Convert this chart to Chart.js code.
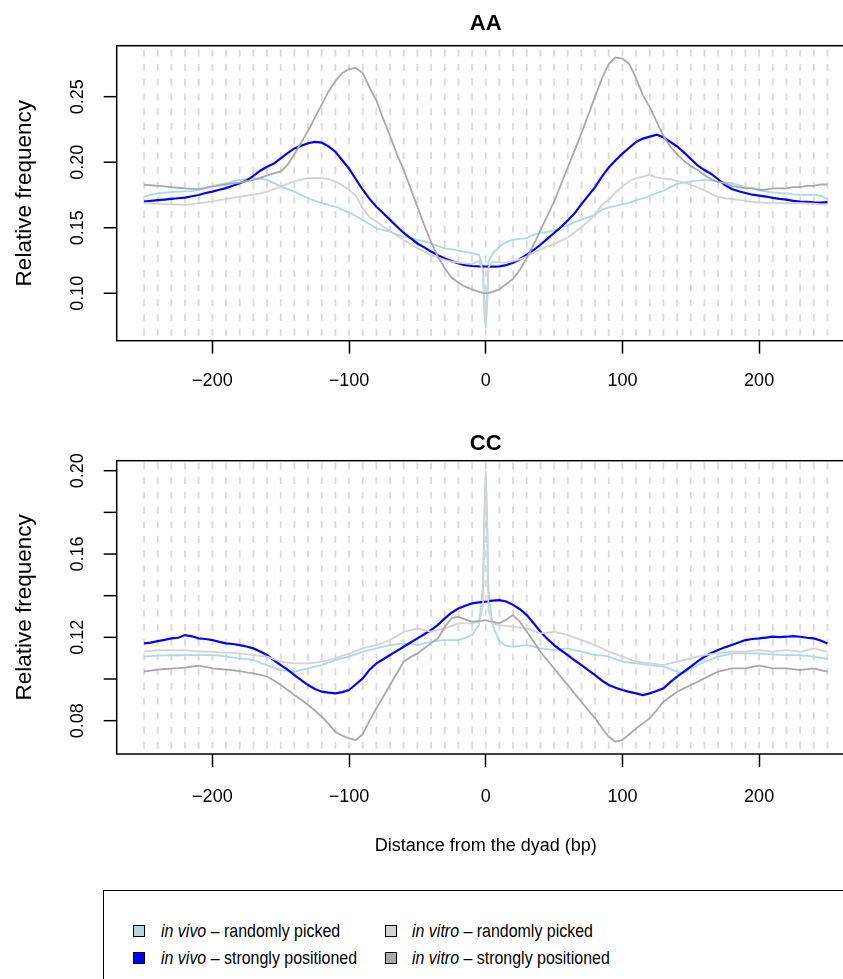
<!DOCTYPE html>
<html>
<head>
<meta charset="utf-8">
<title>AA / CC dinucleotide frequency around the dyad</title>
<script src="https://cdn.jsdelivr.net/npm/chart.js@4.4.1/dist/chart.umd.min.js"></script>
<style>
  html, body { margin: 0; padding: 0; background: #fff; overflow: hidden; }
  body { width: 843px; height: 979px; position: relative; font-family: "Liberation Sans", Arial, Helvetica, sans-serif; }
  canvas { position: absolute; left: 0; }
  #aa { top: 0; }
  #cc { top: 420px; }
  #legend { position: absolute; left: 103px; top: 890px; width: 800px; height: 140px; border: 1.5px solid #000; box-sizing: border-box; }
  .sw { position: absolute; width: 10px; height: 10px; border: 1px solid #000; }
  .lab { position: absolute; font-size: 19px; line-height: 22px; color: #000; white-space: nowrap; transform: scaleX(0.84); transform-origin: 0 50%; }
</style>
</head>
<body>
<canvas id="aa" width="870" height="420"></canvas>
<canvas id="cc" width="870" height="450"></canvas>

<div id="legend"></div>

<script>
// distance from the dyad (bp), every 5 bp plus the centre
const positions = [
  -250, -245, -240, -235, -230, -225, -220, -215, -210, -205,
  -200, -195, -190, -185, -180, -175, -170, -165, -160, -155,
  -150, -145, -140, -135, -130, -125, -120, -115, -110, -105,
  -100, -95, -90, -85, -80, -75, -70, -65, -60, -55,
  -50, -45, -40, -35, -30, -25, -20, -15, -10, -5,
  -2, -1, 0, 1, 2,
  5, 10, 15, 20, 25, 30, 35, 40, 45, 50,
  55, 60, 65, 70, 75, 80, 85, 90, 95, 100,
  105, 110, 115, 120, 125, 130, 135, 140, 145, 150,
  155, 160, 165, 170, 175, 180, 185, 190, 195, 200,
  205, 210, 215, 220, 225, 230, 235, 240, 245, 250
];

// AA panel
const aaVivoRandom = [
  0.1738, 0.1750, 0.1763, 0.1768, 0.1772, 0.1776, 0.1778, 0.1780, 0.1789, 0.1800,
  0.1815, 0.1828, 0.1840, 0.1852, 0.1865, 0.1872, 0.1878, 0.1875, 0.1865, 0.1840,
  0.1815, 0.1795, 0.1776, 0.1750, 0.1725, 0.1705, 0.1687, 0.1675, 0.1662, 0.1638,
  0.1615, 0.1588, 0.1560, 0.1528, 0.1496, 0.1482, 0.1471, 0.1450, 0.1433, 0.1420,
  0.1407, 0.1395, 0.1382, 0.1360, 0.1344, 0.1335, 0.1326, 0.1315, 0.1306, 0.1293,
  0.1200, 0.0850, 0.0735, 0.0900, 0.1240,
  0.1300, 0.1356, 0.1390, 0.1407, 0.1415, 0.1420, 0.1445, 0.1460, 0.1468, 0.1480,
  0.1500, 0.1520, 0.1542, 0.1562, 0.1580, 0.1600, 0.1638, 0.1655, 0.1665, 0.1680,
  0.1690, 0.1710, 0.1725, 0.1742, 0.1765, 0.1780, 0.1810, 0.1835, 0.1845, 0.1853,
  0.1860, 0.1865, 0.1860, 0.1853, 0.1848, 0.1840, 0.1825, 0.1810, 0.1800, 0.1785,
  0.1776, 0.1770, 0.1765, 0.1762, 0.1755, 0.1750, 0.1750, 0.1752, 0.1745, 0.1718
];
const aaVivoStrong = [
  0.1700, 0.1705, 0.1710, 0.1715, 0.1720, 0.1725, 0.1730, 0.1740, 0.1750, 0.1765,
  0.1776, 0.1790, 0.1802, 0.1820, 0.1840, 0.1860, 0.1895, 0.1935, 0.1965, 0.1990,
  0.2030, 0.2070, 0.2105, 0.2125, 0.2145, 0.2155, 0.2150, 0.2120, 0.2080, 0.2015,
  0.1950, 0.1870, 0.1790, 0.1720, 0.1660, 0.1610, 0.1560, 0.1510, 0.1460, 0.1420,
  0.1380, 0.1350, 0.1318, 0.1290, 0.1265, 0.1245, 0.1228, 0.1215, 0.1208, 0.1205,
  0.1204, 0.1204, 0.1204, 0.1203, 0.1203,
  0.1203, 0.1205, 0.1215, 0.1232, 0.1260, 0.1295, 0.1330, 0.1370, 0.1415, 0.1460,
  0.1505, 0.1555, 0.1610, 0.1680, 0.1745, 0.1810, 0.1890, 0.1960, 0.2015, 0.2065,
  0.2110, 0.2155, 0.2180, 0.2195, 0.2210, 0.2190, 0.2155, 0.2120, 0.2075, 0.2025,
  0.1975, 0.1940, 0.1910, 0.1870, 0.1825, 0.1795, 0.1778, 0.1765, 0.1752, 0.1745,
  0.1738, 0.1728, 0.1720, 0.1715, 0.1705, 0.1700, 0.1698, 0.1693, 0.1692, 0.1695
];
const aaVitroRandom = [
  0.1687, 0.1685, 0.1683, 0.1680, 0.1678, 0.1676, 0.1675, 0.1680, 0.1687, 0.1693,
  0.1700, 0.1710, 0.1718, 0.1728, 0.1738, 0.1744, 0.1750, 0.1762, 0.1776, 0.1795,
  0.1815, 0.1835, 0.1853, 0.1868, 0.1878, 0.1880, 0.1878, 0.1870, 0.1853, 0.1825,
  0.1789, 0.1745, 0.1650, 0.1580, 0.1547, 0.1510, 0.1471, 0.1440, 0.1407, 0.1375,
  0.1344, 0.1318, 0.1293, 0.1272, 0.1254, 0.1242, 0.1234, 0.1228, 0.1224, 0.1245,
  0.1180, 0.0920, 0.0775, 0.0950, 0.1200,
  0.1242, 0.1236, 0.1234, 0.1245, 0.1258, 0.1280, 0.1310, 0.1335, 0.1356, 0.1375,
  0.1400, 0.1425, 0.1465, 0.1505, 0.1550, 0.1600, 0.1675, 0.1712, 0.1770, 0.1815,
  0.1855, 0.1878, 0.1890, 0.1904, 0.1885, 0.1876, 0.1870, 0.1858, 0.1845, 0.1828,
  0.1808, 0.1785, 0.1758, 0.1735, 0.1725, 0.1718, 0.1712, 0.1705, 0.1698, 0.1693,
  0.1690, 0.1689, 0.1688, 0.1687, 0.1687, 0.1687, 0.1685, 0.1683, 0.1678, 0.1674
];
const aaVitroStrong = [
  0.1827, 0.1824, 0.1820, 0.1815, 0.1810, 0.1805, 0.1800, 0.1797, 0.1795, 0.1805,
  0.1815, 0.1822, 0.1830, 0.1838, 0.1845, 0.1855, 0.1865, 0.1880, 0.1900, 0.1915,
  0.1930, 0.1980, 0.2060, 0.2150, 0.2240, 0.2340, 0.2440, 0.2540, 0.2620, 0.2680,
  0.2710, 0.2720, 0.2680, 0.2570, 0.2470, 0.2330, 0.2200, 0.2060, 0.1940, 0.1800,
  0.1660, 0.1520, 0.1390, 0.1280, 0.1190, 0.1120, 0.1080, 0.1050, 0.1030, 0.1010,
  0.1003, 0.1001, 0.1000, 0.1001, 0.1003,
  0.1010, 0.1030, 0.1070, 0.1110, 0.1180, 0.1270, 0.1370, 0.1480, 0.1590, 0.1700,
  0.1830, 0.1960, 0.2090, 0.2220, 0.2360, 0.2500, 0.2640, 0.2750, 0.2800, 0.2790,
  0.2750, 0.2640, 0.2510, 0.2420, 0.2310, 0.2200, 0.2120, 0.2060, 0.2010, 0.1970,
  0.1940, 0.1900, 0.1870, 0.1850, 0.1840, 0.1820, 0.1810, 0.1800, 0.1800, 0.1790,
  0.1790, 0.1800, 0.1800, 0.1800, 0.1810, 0.1810, 0.1820, 0.1820, 0.1830, 0.1830
];

// CC panel
const ccVivoRandom = [
  0.1107, 0.1110, 0.1112, 0.1113, 0.1115, 0.1114, 0.1115, 0.1115, 0.1115, 0.1115,
  0.1115, 0.1112, 0.1108, 0.1103, 0.1099, 0.1095, 0.1091, 0.1079, 0.1067, 0.1055,
  0.1043, 0.1039, 0.1035, 0.1043, 0.1051, 0.1059, 0.1067, 0.1079, 0.1091, 0.1099,
  0.1107, 0.1119, 0.1131, 0.1139, 0.1147, 0.1155, 0.1163, 0.1167, 0.1171, 0.1167,
  0.1163, 0.1171, 0.1179, 0.1183, 0.1187, 0.1187, 0.1187, 0.1199, 0.1211, 0.1259,
  0.1450, 0.1800, 0.1970, 0.1780, 0.1420,
  0.1259, 0.1180, 0.1160, 0.1155, 0.1159, 0.1163, 0.1155, 0.1147, 0.1143, 0.1139,
  0.1143, 0.1147, 0.1139, 0.1131, 0.1123, 0.1115, 0.1113, 0.1107, 0.1095, 0.1083,
  0.1079, 0.1075, 0.1071, 0.1067, 0.1063, 0.1059, 0.1047, 0.1035, 0.1027, 0.1051,
  0.1067, 0.1083, 0.1095, 0.1107, 0.1115, 0.1123, 0.1123, 0.1123, 0.1123, 0.1123,
  0.1120, 0.1118, 0.1116, 0.1115, 0.1115, 0.1115, 0.1111, 0.1107, 0.1102, 0.1096
];
const ccVivoStrong = [
  0.1171, 0.1175, 0.1182, 0.1188, 0.1195, 0.1198, 0.1211, 0.1205, 0.1195, 0.1192,
  0.1187, 0.1178, 0.1171, 0.1168, 0.1163, 0.1156, 0.1147, 0.1132, 0.1115, 0.1090,
  0.1067, 0.1045, 0.1019, 0.0995, 0.0971, 0.0952, 0.0939, 0.0935, 0.0931, 0.0937,
  0.0947, 0.0975, 0.1003, 0.1045, 0.1075, 0.1095, 0.1115, 0.1135, 0.1155, 0.1175,
  0.1195, 0.1215, 0.1235, 0.1260, 0.1291, 0.1318, 0.1339, 0.1352, 0.1363, 0.1368,
  0.1370, 0.1370, 0.1371, 0.1372, 0.1374,
  0.1376, 0.1379, 0.1372, 0.1356, 0.1335, 0.1307, 0.1268, 0.1227, 0.1193, 0.1163,
  0.1138, 0.1115, 0.1090, 0.1067, 0.1043, 0.1019, 0.0992, 0.0971, 0.0958, 0.0947,
  0.0938, 0.0931, 0.0923, 0.0931, 0.0942, 0.0955, 0.0985, 0.1011, 0.1035, 0.1059,
  0.1085, 0.1107, 0.1125, 0.1139, 0.1152, 0.1163, 0.1175, 0.1187, 0.1192, 0.1195,
  0.1199, 0.1203, 0.1201, 0.1203, 0.1206, 0.1203, 0.1198, 0.1195, 0.1185, 0.1171
];
const ccVitroRandom = [
  0.1131, 0.1135, 0.1138, 0.1139, 0.1139, 0.1137, 0.1139, 0.1135, 0.1133, 0.1131,
  0.1131, 0.1128, 0.1127, 0.1125, 0.1123, 0.1119, 0.1115, 0.1111, 0.1107, 0.1095,
  0.1083, 0.1079, 0.1075, 0.1075, 0.1075, 0.1079, 0.1083, 0.1091, 0.1099, 0.1111,
  0.1123, 0.1135, 0.1147, 0.1155, 0.1163, 0.1175, 0.1187, 0.1207, 0.1227, 0.1235,
  0.1243, 0.1235, 0.1227, 0.1235, 0.1243, 0.1255, 0.1267, 0.1267, 0.1267, 0.1275,
  0.1350, 0.1750, 0.2000, 0.1720, 0.1330,
  0.1267, 0.1259, 0.1255, 0.1251, 0.1247, 0.1243, 0.1231, 0.1219, 0.1223, 0.1227,
  0.1219, 0.1211, 0.1199, 0.1187, 0.1175, 0.1163, 0.1147, 0.1131, 0.1119, 0.1107,
  0.1095, 0.1083, 0.1079, 0.1075, 0.1071, 0.1067, 0.1075, 0.1083, 0.1091, 0.1099,
  0.1107, 0.1115, 0.1119, 0.1123, 0.1127, 0.1131, 0.1131, 0.1131, 0.1135, 0.1139,
  0.1135, 0.1131, 0.1135, 0.1139, 0.1135, 0.1131, 0.1139, 0.1147, 0.1139, 0.1131
];
const ccVitroStrong = [
  0.1035, 0.1040, 0.1045, 0.1048, 0.1050, 0.1052, 0.1055, 0.1060, 0.1064, 0.1058,
  0.1051, 0.1048, 0.1045, 0.1042, 0.1038, 0.1032, 0.1027, 0.1020, 0.1011, 0.0993,
  0.0971, 0.0948, 0.0923, 0.0900, 0.0875, 0.0848, 0.0819, 0.0785, 0.0747, 0.0728,
  0.0715, 0.0707, 0.0735, 0.0800, 0.0859, 0.0915, 0.0971, 0.1028, 0.1083, 0.1105,
  0.1123, 0.1148, 0.1171, 0.1195, 0.1250, 0.1292, 0.1299, 0.1285, 0.1275, 0.1278,
  0.1280, 0.1282, 0.1283, 0.1280, 0.1278,
  0.1275, 0.1267, 0.1285, 0.1307, 0.1275, 0.1227, 0.1180, 0.1131, 0.1090, 0.1051,
  0.1010, 0.0971, 0.0930, 0.0891, 0.0850, 0.0811, 0.0765, 0.0723, 0.0699, 0.0707,
  0.0735, 0.0763, 0.0787, 0.0811, 0.0850, 0.0891, 0.0915, 0.0939, 0.0955, 0.0971,
  0.0987, 0.1003, 0.1020, 0.1035, 0.1043, 0.1051, 0.1051, 0.1051, 0.1058, 0.1064,
  0.1058, 0.1051, 0.1051, 0.1051, 0.1047, 0.1043, 0.1047, 0.1051, 0.1043, 0.1035
];

const xTicks = [-200, -100, 0, 100, 200];
const aaYTicks = [0.10, 0.15, 0.20, 0.25];
const aaYLabels = ["0.10", "0.15", "0.20", "0.25"];
const ccYTicks = [0.08, 0.10, 0.12, 0.14, 0.16, 0.18, 0.20];
const ccYLabels = ["0.08", "", "0.12", "", "0.16", "", "0.20"];
// dashed guides every 10 bp
const guideLines = [
  -250, -240, -230, -220, -210, -200, -190, -180, -170, -160,
  -150, -140, -130, -120, -110, -100, -90, -80, -70, -60,
  -50, -40, -30, -20, -10, 0, 10, 20, 30, 40,
  50, 60, 70, 80, 90, 100, 110, 120, 130, 140,
  150, 160, 170, 180, 190, 200, 210, 220, 230, 240, 250
];

const seriesNames = [
  "in vivo \u2013 randomly picked",
  "in vivo \u2013 strongly positioned",
  "in vitro \u2013 randomly picked",
  "in vitro \u2013 strongly positioned"
];
const seriesColors = ["#ADD8E6", "#0000FF", "#D3D3D3", "#A9A9A9"];

const FONT = '"Liberation Sans", Arial, Helvetica, sans-serif';
Chart.defaults.font.family = FONT;
Chart.defaults.color = "#000";

function pts(vals) {
  return positions.map((x, i) => ({ x: x, y: vals[i] }));
}

// R-style frame: dashed guides, box, rotated y labels, titles
function rFrame(cfg) {
  return {
    id: "rFrame",
    beforeDatasetsDraw(chart) {
      const { ctx, chartArea: a } = chart;
      const x = chart.scales.x;
      ctx.save();
      ctx.beginPath();
      ctx.rect(a.left, a.top, a.right - a.left, a.bottom - a.top);
      ctx.clip();
      ctx.strokeStyle = "#dadada";
      ctx.lineWidth = 1.8;
      ctx.setLineDash([7, 7.7]);
      ctx.lineDashOffset = cfg.dashOffset;
      guideLines.forEach((v) => {
        const px = x.getPixelForValue(v);
        ctx.beginPath();
        ctx.moveTo(px, a.top);
        ctx.lineTo(px, a.bottom);
        ctx.stroke();
      });
      ctx.restore();
    },
    afterDraw(chart) {
      const { ctx, chartArea: a } = chart;
      const y = chart.scales.y;
      ctx.save();
      ctx.strokeStyle = "#000";
      ctx.lineWidth = 1.5;
      ctx.strokeRect(a.left, a.top, a.right - a.left, a.bottom - a.top);

      ctx.fillStyle = "#000";
      ctx.font = "18px " + FONT;
      ctx.textAlign = "center";
      ctx.textBaseline = "alphabetic";
      cfg.yTicks.forEach((v, i) => {
        const py = y.getPixelForValue(v);
        ctx.beginPath();
        ctx.moveTo(a.left, py);
        ctx.lineTo(a.left - 13, py);
        ctx.stroke();
        if (cfg.yLabels[i]) {
          ctx.save();
          ctx.translate(83, py);
          ctx.rotate(-Math.PI / 2);
          ctx.fillText(cfg.yLabels[i], 0, 0);
          ctx.restore();
        }
      });

      if (cfg.xTitle) {
        ctx.fillText(cfg.xTitle, (a.left + a.right) / 2, cfg.xTitleY);
      }

      // axis title, set a bit larger like the original
      ctx.font = "22.5px " + FONT;
      ctx.save();
      ctx.translate(31, (a.top + a.bottom) / 2);
      ctx.rotate(-Math.PI / 2);
      ctx.fillText("Relative frequency", 0, 0);
      ctx.restore();

      ctx.font = "bold 22px " + FONT;
      ctx.fillText(cfg.title, (a.left + a.right) / 2, cfg.titleY);
      ctx.restore();
    }
  };
}

function makePanel(id, cfg) {
  const canvas = document.getElementById(id);
  const datasets = cfg.series.map((vals, i) => ({
    label: seriesNames[i],
    data: pts(vals),
    borderColor: seriesColors[i],
    borderWidth: i === 1 ? 2.2 : 1.8,
    pointRadius: 0,
    tension: 0,
    order: 4 - i
  }));

  return new Chart(canvas.getContext("2d"), {
    type: "line",
    data: { datasets: datasets },
    options: {
      responsive: false,
      animation: false,
      events: [],
      layout: { padding: { left: 0, top: cfg.top, right: canvas.width - 854.8, bottom: 0 } },
      plugins: { legend: { display: false }, tooltip: { enabled: false }, title: { display: false } },
      scales: {
        x: {
          type: "linear",
          min: -270,
          max: 270,
          afterBuildTicks: (s) => { s.ticks = xTicks.map((v) => ({ value: v })); },
          afterFit: (s) => { s.height = canvas.height - cfg.bottom; },
          ticks: {
            autoSkip: false,
            maxRotation: 0,
            padding: cfg.xPad,
            font: { size: 18 },
            color: "#000",
            callback: (v) => String(v).replace("-", "\u2212")
          },
          grid: { drawOnChartArea: false, drawTicks: true, tickLength: 13, tickColor: "#000", tickWidth: 1.5 },
          border: { display: false }
        },
        y: {
          type: "linear",
          min: cfg.yMin,
          max: cfg.yMax,
          afterFit: (s) => { s.width = 116.7; },
          ticks: { display: false },
          grid: { display: false },
          border: { display: false }
        }
      }
    },
    plugins: [rFrame(cfg)]
  });
}

makePanel("aa", {
  title: "AA",
  titleY: 30,
  top: 45.7,
  bottom: 340.7,
  yMin: 0.0638,
  yMax: 0.2889,
  yTicks: aaYTicks,
  yLabels: aaYLabels,
  xPad: 17,
  dashOffset: 11,
  series: [aaVivoRandom, aaVivoStrong, aaVitroRandom, aaVitroStrong]
});

makePanel("cc", {
  title: "CC",
  titleY: 29.5,
  top: 40.7,
  bottom: 334,
  yMin: 0.0640,
  yMax: 0.2048,
  yTicks: ccYTicks,
  yLabels: ccYLabels,
  xPad: 19,
  dashOffset: 13,
  xTitle: "Distance from the dyad (bp)",
  xTitleY: 431,
  series: [ccVivoRandom, ccVivoStrong, ccVitroRandom, ccVitroStrong]
});

// legend, two columns like the original
const legend = document.getElementById("legend");
const legendSpots = [
  { sx: 29, tx: 56.5, y: 40 },
  { sx: 29, tx: 56.5, y: 66.5 },
  { sx: 281, tx: 308, y: 40 },
  { sx: 281, tx: 308, y: 66.5 }
];
seriesNames.forEach((name, i) => {
  const p = legendSpots[i];
  const sw = document.createElement("div");
  sw.className = "sw";
  sw.style.left = p.sx + "px";
  sw.style.top = (p.y - 6) + "px";
  sw.style.background = seriesColors[i];
  legend.appendChild(sw);

  const parts = name.split(" \u2013 ");
  const lab = document.createElement("div");
  lab.className = "lab";
  lab.style.left = p.tx + "px";
  lab.style.top = (p.y - 11) + "px";
  lab.innerHTML = "<i>" + parts[0] + "</i> \u2013 " + parts[1];
  legend.appendChild(lab);
});
</script>
</body>
</html>
